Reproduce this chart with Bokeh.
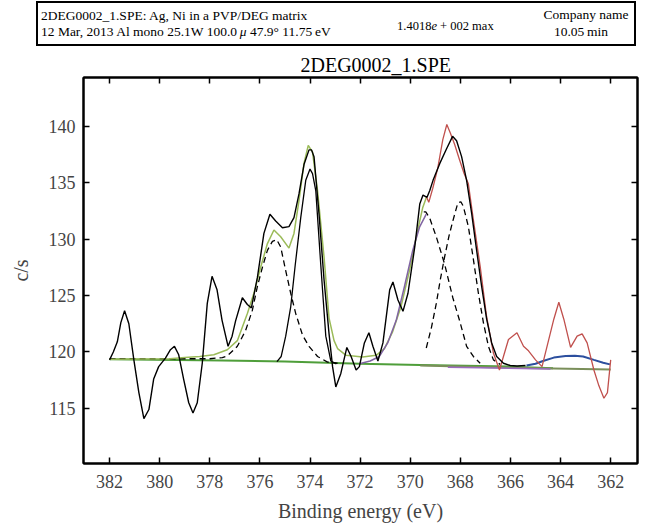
from bokeh.plotting import figure
from bokeh.models import Range1d, LinearAxis, FixedTicker, Div, Title
from bokeh.layouts import column
from bokeh.embed import file_html
from bokeh.resources import INLINE

FONT = "Liberation Serif"

# ---- data ----
raw_x = [382.00, 381.85, 381.69, 381.55, 381.40, 381.23, 381.03, 380.83, 380.63, 380.43,
         380.24, 380.04, 379.77, 379.57, 379.41, 379.24, 379.04, 378.84, 378.67, 378.50,
         378.30, 378.10, 377.91, 377.71, 377.51, 377.27, 377.11, 376.97, 376.70, 376.50,
         376.34, 376.10, 375.84, 375.60, 375.37, 375.10, 374.84, 374.64, 374.44, 374.24,
         374.04, 373.94, 373.84, 373.64, 373.44, 373.24, 373.10, 372.97, 372.77, 372.53,
         372.36, 372.16, 372.03, 371.83, 371.65, 371.49, 371.29, 371.09, 370.82, 370.69,
         370.49, 370.29, 370.09, 369.82, 369.62, 369.49, 369.33, 369.22, 369.09, 368.82,
         368.55, 368.31, 368.15, 367.95, 367.75, 367.55, 367.35, 367.15, 366.95, 366.75,
         366.55, 366.28, 366.01, 365.74, 365.40]
raw_y = [119.3, 120.0, 120.9, 122.6, 123.65, 122.5, 119.3, 116.4, 114.1, 114.9,
         117.6, 118.7, 119.45, 120.2, 120.5, 119.75, 117.55, 115.5, 114.6, 115.5,
         119.0, 124.3, 126.7, 125.5, 122.8, 120.5, 121.4, 122.75, 124.8, 124.2,
         123.9, 126.6, 130.5, 132.2, 131.6, 131.0, 131.1, 131.9, 134.0, 136.6,
         137.9, 137.9, 137.3, 132.2, 126.4, 121.6, 118.7, 116.9, 118.1, 120.4,
         119.6, 118.4, 118.7, 120.8, 121.7, 120.5, 119.2, 120.8, 125.5, 126.2,
         124.6, 123.6, 125.2, 129.3, 133.1, 133.9, 133.7, 134.3, 135.2, 136.7,
         138.0, 139.1, 138.7, 137.3, 135.2, 132.3, 129.0, 125.8, 122.9, 120.8,
         119.6, 119.0, 118.8, 118.75, 118.8]

ni_raw_x = [369.36, 369.26, 369.10, 368.90, 368.70, 368.54, 368.40, 368.23, 368.03, 367.85,
            367.68, 367.48, 367.21, 366.95, 366.68, 366.44, 366.28, 366.08, 365.74, 365.48,
            365.28, 365.00, 364.74, 364.54, 364.27, 364.07, 363.87, 363.60, 363.34, 363.14,
            362.94, 362.67, 362.47, 362.27, 362.13, 362.00]
ni_raw_y = [133.8, 133.25, 134.5, 136.3, 138.8, 140.15, 139.4, 138.4, 137.0, 135.8,
            134.9, 131.7, 127.6, 123.1, 119.9, 118.4, 119.6, 121.1, 121.7, 120.5,
            120.1, 119.3, 118.7, 120.5, 122.9, 124.4, 122.9, 120.4, 121.4, 121.6,
            120.8, 118.4, 117.0, 115.9, 116.4, 119.3]

env_x = [382.00, 379.60, 379.00, 378.40, 377.84, 377.30, 376.90, 376.50, 376.24, 375.97,
         375.70, 375.44, 375.17, 374.84, 374.64, 374.44, 374.24, 374.07, 373.90, 373.70,
         373.44, 373.24, 373.04, 372.90, 372.56, 371.90, 371.36, 371.03, 370.70, 370.37,
         370.03, 369.76, 369.50, 369.34]
env_y = [119.35, 119.4, 119.5, 119.6, 119.75, 120.2, 121.0, 123.4, 125.2, 127.5,
         129.6, 130.8, 130.2, 129.2, 130.5, 133.4, 136.7, 138.3, 137.7, 134.3,
         128.4, 123.0, 121.0, 120.3, 119.7, 119.55, 119.7, 120.3, 121.8, 124.0,
         127.2, 130.2, 132.8, 133.8]

ag_a_x = [382.00, 378.00, 377.50, 377.30, 376.90, 376.57, 376.30, 376.10, 375.90, 375.70,
          375.50, 375.33, 375.17, 374.97, 374.77, 374.57, 374.30, 374.04, 373.70, 373.30, 372.90]
ag_a_y = [119.4, 119.4, 119.5, 119.65, 120.5, 121.9, 123.7, 125.8, 127.5, 129.0,
          129.8, 129.95, 129.3, 127.2, 125.2, 123.4, 121.5, 120.5, 119.6, 119.1, 119.0]

ag_b_x = [375.32, 375.15, 374.97, 374.77, 374.59, 374.37, 374.17, 374.00, 373.90, 373.77,
          373.57, 373.37, 373.17, 372.95]
ag_b_y = [119.15, 119.6, 121.4, 124.0, 127.7, 131.9, 135.2, 136.2, 135.8, 134.3,
          127.7, 121.4, 119.2, 118.95]

pur_x = [372.03, 371.60, 371.23, 370.90, 370.56, 370.23, 369.90, 369.63, 369.36]
pur_y = [118.96, 119.2, 119.6, 120.8, 122.8, 125.8, 129.0, 131.05, 132.2]

ni_a_x = [369.46, 369.38, 369.23, 368.96, 368.63, 368.30, 368.02, 367.75, 367.48, 367.21]
ni_a_y = [132.4, 132.4, 131.9, 130.2, 127.8, 124.8, 122.7, 120.5, 119.6, 119.0]

ni_b_x = [369.36, 369.15, 368.96, 368.80, 368.63, 368.45, 368.30, 368.10, 367.98, 367.88,
          367.68, 367.48, 367.28, 367.08, 366.88, 366.68, 366.41]
ni_b_y = [120.35, 122.2, 124.3, 126.4, 128.4, 130.3, 131.6, 133.2, 133.3, 132.9,
          131.1, 128.2, 125.2, 122.6, 120.5, 119.3, 118.9]

blue_x = [365.36, 365.00, 364.70, 364.27, 363.80, 363.43, 363.10, 362.67, 362.30, 362.03]
blue_y = [118.8, 118.95, 119.2, 119.5, 119.65, 119.67, 119.6, 119.3, 119.05, 118.9]

bg1_x = [382.0, 377.5, 375.0, 372.0, 369.6, 366.0, 364.3]
bg1_y = [119.35, 119.25, 119.15, 118.95, 118.85, 118.7, 118.55]
bg2_x = [369.6, 366.0, 362.0]
bg2_y = [118.8, 118.6, 118.45]
bg3_x = [368.5, 364.4]
bg3_y = [118.65, 118.5]

x_ticks = [382, 380, 378, 376, 374, 372, 370, 368, 366, 364, 362]
y_ticks = [115, 120, 125, 130, 135, 140]

header_line1 = "2DEG0002_1.SPE: Ag, Ni in a PVP/DEG matrix"
header_line2 = "12 Mar, 2013 Al mono 25.1W 100.0\u2009<i>\u03bc</i> 47.9\u00b0 11.75\u2009eV"
header_max = "1.4018<i>e</i> + 002 max"
header_right1 = "Company name"
header_right2 = "10.05\u2009min"
title_text = "2DEG0002_1.SPE"

W = 644
HH = 50

# ---- header box (HTML) ----
sp = "position:absolute;line-height:1;white-space:nowrap;"
html = (
    f'<div style="position:relative;width:{W}px;height:{HH}px;font-family:\'{FONT}\',serif;color:black;">'
    '<div style="position:absolute;left:36px;top:1px;width:600px;height:45px;border:2px solid black;"></div>'
    f'<span style="{sp}left:41px;top:9.2px;font-size:13.5px;">{header_line1}</span>'
    f'<span style="{sp}left:41px;top:25.2px;font-size:13.5px;">{header_line2}</span>'
    f'<span style="{sp}left:397px;top:20px;font-size:12.5px;">{header_max}</span>'
    f'<span style="{sp}left:536px;top:8.2px;width:100px;text-align:center;font-size:13.5px;">{header_right1}</span>'
    f'<span style="{sp}left:531px;top:25.2px;width:100px;text-align:center;font-size:13.5px;">{header_right2}</span>'
    '</div>'
)
header = Div(text=html, width=W, height=HH, margin=0)

# ---- main plot ----
p = figure(width=W, height=480, x_range=Range1d(383.04, 360.93), y_range=Range1d(110.12, 144.31),
           output_backend="svg", toolbar_location=None,
           min_border_left=83, min_border_right=7, min_border_top=0, min_border_bottom=67)
p.grid.visible = False
p.outline_line_color = "black"
p.outline_line_width = 2

for ax in (p.xaxis[0], p.yaxis[0]):
    ax.axis_line_width = 2
    ax.major_tick_in = 6
    ax.major_tick_out = 0
    ax.minor_tick_line_color = None
    ax.major_label_text_font = FONT
    ax.major_label_text_font_size = "18px"
    ax.axis_label_text_font = FONT
    ax.axis_label_text_font_size = "20px"
    ax.axis_label_text_font_style = "normal"
    ax.major_tick_line_width = 1.5
p.xaxis[0].ticker = FixedTicker(ticks=x_ticks)
p.yaxis[0].ticker = FixedTicker(ticks=y_ticks)
p.xaxis[0].axis_label = "Binding energy (eV)"
p.yaxis[0].axis_label = "c/s"
p.xaxis[0].major_label_standoff = 11
p.xaxis[0].axis_label_standoff = 9
p.yaxis[0].major_label_standoff = 8
p.yaxis[0].axis_label_standoff = 14

for loc, ticks in (("above", x_ticks), ("right", y_ticks)):
    ax = LinearAxis(ticker=FixedTicker(ticks=ticks), major_tick_in=6, major_tick_out=0,
                    minor_tick_line_color=None, major_label_text_color=None,
                    major_label_text_font_size="0px", major_label_standoff=0,
                    axis_line_width=2, major_tick_line_width=1.5)
    p.add_layout(ax, loc)

# title added after the top axis so it sits above it
p.add_layout(Title(text=title_text, text_font=FONT, text_font_size="20px", text_font_style="normal",
                   align="left", offset=217, standoff=3, text_color="black"), "above")

# baselines
p.line(bg1_x, bg1_y, line_color="#4f9e3a", line_width=2)
p.line(bg2_x, bg2_y, line_color="#7a8f5a", line_width=2)
p.line(bg3_x, bg3_y, line_color="#9b6bbf", line_width=1.5)
# components
p.line(ag_a_x, ag_a_y, line_color="black", line_width=1.3, line_dash="6 4")
p.line(ni_a_x, ni_a_y, line_color="black", line_width=1.3, line_dash="6 4")
p.line(ni_b_x, ni_b_y, line_color="black", line_width=1.3, line_dash="6 4")
p.line(ag_b_x, ag_b_y, line_color="black", line_width=1.3)
# envelopes
p.line(env_x, env_y, line_color="#9bbb59", line_width=1.5)
p.line(pur_x, pur_y, line_color="#8064a2", line_width=1.5)
p.line(blue_x, blue_y, line_color="#2c4f9e", line_width=2)
# spectra
p.line(ni_raw_x, ni_raw_y, line_color="#c0504d", line_width=1.3)
p.line(raw_x, raw_y, line_color="black", line_width=1.4)

open("out.html", "w").write(file_html(column(header, p), INLINE))
